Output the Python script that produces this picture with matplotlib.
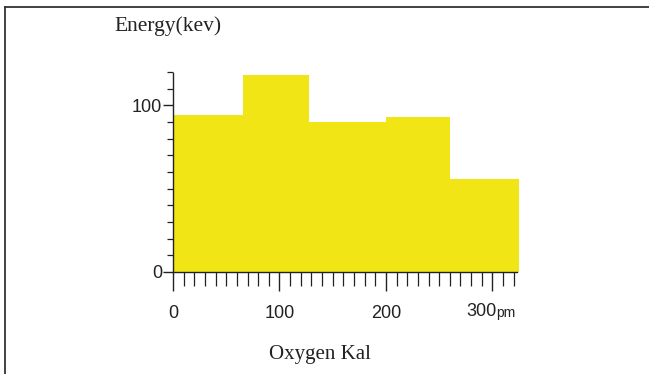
import matplotlib
matplotlib.use("Agg")
import matplotlib.pyplot as plt
from matplotlib.ticker import FixedLocator
import matplotlib.transforms as mtransforms
import numpy as np

# Data
bin_edges = [0, 66, 128, 200, 260, 325]
energy = [94, 118, 90, 93, 56]
x_tick_values = [0, 100, 200, 300]
x_tick_labels = ["0", "100", "200", ""]
y_tick_values = [0, 100]
y_tick_labels = ["0", "100"]

bar_color = "#f1e516"

fig = plt.figure(figsize=(6.49, 3.74), dpi=100)
ax = fig.add_axes([173 / 649, (374 - 272) / 374, (519 - 173) / 649, 200 / 374])

lefts = np.array(bin_edges[:-1])
widths = np.diff(bin_edges)
ax.bar(lefts, energy, width=widths, align="edge", color=bar_color,
       edgecolor="none", linewidth=0, zorder=1)

ax.set_xlim(0, 325)
ax.set_ylim(0, 120)

for s in ["top", "right"]:
    ax.spines[s].set_visible(False)
for s in ["left", "bottom"]:
    ax.spines[s].set_color("#222222")
    ax.spines[s].set_linewidth(1.0)
    ax.spines[s].set_zorder(3)
ax.spines["bottom"].set_bounds(0, 323)
ax.spines["left"].set_bounds(0, 119.5)

ax.xaxis.set_major_locator(FixedLocator(x_tick_values))
ax.set_xticklabels(x_tick_labels)
ax.xaxis.set_minor_locator(FixedLocator([v for v in range(10, 330, 10) if v % 100 != 0]))
ax.yaxis.set_major_locator(FixedLocator(y_tick_values))
ax.set_yticklabels(y_tick_labels)
ax.yaxis.set_minor_locator(FixedLocator([v for v in range(10, 121, 10) if v % 100 != 0]))

ax.tick_params(axis="x", which="major", direction="out", length=14, width=1.0,
               color="#222222", labelsize=13, pad=10)
ax.tick_params(axis="x", which="minor", direction="out", length=10, width=0.9,
               color="#222222")
ax.tick_params(axis="y", which="major", direction="out", length=7, width=1.0,
               color="#222222", labelsize=13, pad=1)
ax.tick_params(axis="y", which="minor", direction="out", length=4, width=0.9,
               color="#222222")
for lab in ax.get_xticklabels() + ax.get_yticklabels():
    lab.set_fontfamily("Liberation Sans")
    lab.set_color("#222222")

# "300pm" label
trans = mtransforms.blended_transform_factory(ax.transData, fig.transFigure)
fig.text(304, (374 - 311) / 374, "300", transform=trans, ha="right", va="center",
         fontsize=13, family="Liberation Sans", color="#222222")
fig.text(304, (374 - 313) / 374, "pm", transform=trans, ha="left", va="center",
         fontsize=10, family="Liberation Sans", color="#222222")

fig.text(168 / 649, (374 - 26) / 374, "Energy(kev)", ha="center", va="center",
         fontsize=15.5, family="Liberation Serif", color="#222222")
fig.text(320 / 649, (374 - 354) / 374, "Oxygen Kal", ha="center", va="center",
         fontsize=15, family="Liberation Serif", color="#222222")

# frame lines at left and top
fig.add_artist(plt.Line2D([4.5 / 649, 4.5 / 649], [0, (374 - 6.5) / 374],
                          transform=fig.transFigure, color="#333333", lw=1.3))
fig.add_artist(plt.Line2D([4.5 / 649, 1], [(374 - 6.5) / 374, (374 - 6.5) / 374],
                          transform=fig.transFigure, color="#333333", lw=1.3))

fig.savefig("out.png", dpi=100)
